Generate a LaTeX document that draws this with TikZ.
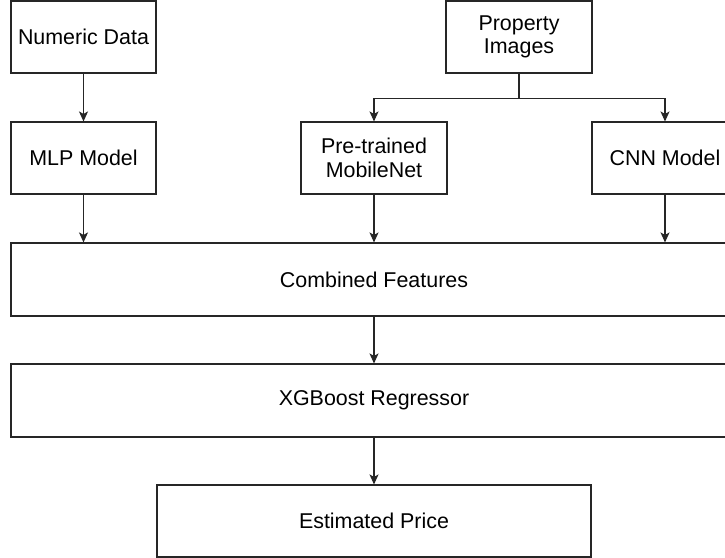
\documentclass[tikz,border=0pt]{standalone}
\usepackage{fontspec}
\setmainfont{Liberation Sans}
\usetikzlibrary{arrows.meta}
\begin{document}
\begin{tikzpicture}[x=1bp,y=-1bp,
  box/.style={draw=black!85, line width=1.1bp, fill=white, inner sep=0pt,
    align=center, font=\fontsize{21.5}{23.5}\selectfont},
  link/.style={draw=black!85, line width=1.2bp,
    -{Stealth[length=10bp,width=9bp,inset=2.5bp]}}]
  \clip (0,0) rectangle (725,558);
  \fill[white] (0,0) rectangle (725,558);

  % input sources
  \node[box, minimum width=145bp, minimum height=72bp] (numeric) at (83.5,37) {Numeric Data};
  \node[box, minimum width=146bp, minimum height=72bp] (images) at (519,37) {Property\\Images};

  % feature extractors
  \node[box, minimum width=145bp, minimum height=72bp] (mlp) at (83.5,158) {MLP Model};
  \node[box, minimum width=146bp, minimum height=72bp] (mobilenet) at (374,158) {Pre-trained\\MobileNet};
  \node[box, minimum width=146bp, minimum height=72bp] (cnn) at (665,158) {CNN Model};

  % fusion and regression
  \node[box, minimum width=726bp, minimum height=73bp] (combined) at (374,279.5) {Combined Features};
  \node[box, minimum width=726bp, minimum height=73bp] (xgb) at (374,400.5) {XGBoost Regressor};
  \node[box, minimum width=434bp, minimum height=72bp] (price) at (374,521) {Estimated Price};

  % connectors
  \draw[link] (numeric.south) -- (mlp.north);
  \draw[draw=black!85, line width=1.2bp] (images.south) -- ++(0,25) coordinate (split);
  \draw[link] (split) -| (mobilenet.north);
  \draw[link] (split) -| (cnn.north);
  \draw[link] (mlp.south) -- (combined.north -| mlp.south);
  \draw[link] (mobilenet.south) -- (combined.north -| mobilenet.south);
  \draw[link] (cnn.south) -- (combined.north -| cnn.south);
  \draw[link] (combined.south) -- (xgb.north);
  \draw[link] (xgb.south) -- (price.north);
\end{tikzpicture}
\end{document}
